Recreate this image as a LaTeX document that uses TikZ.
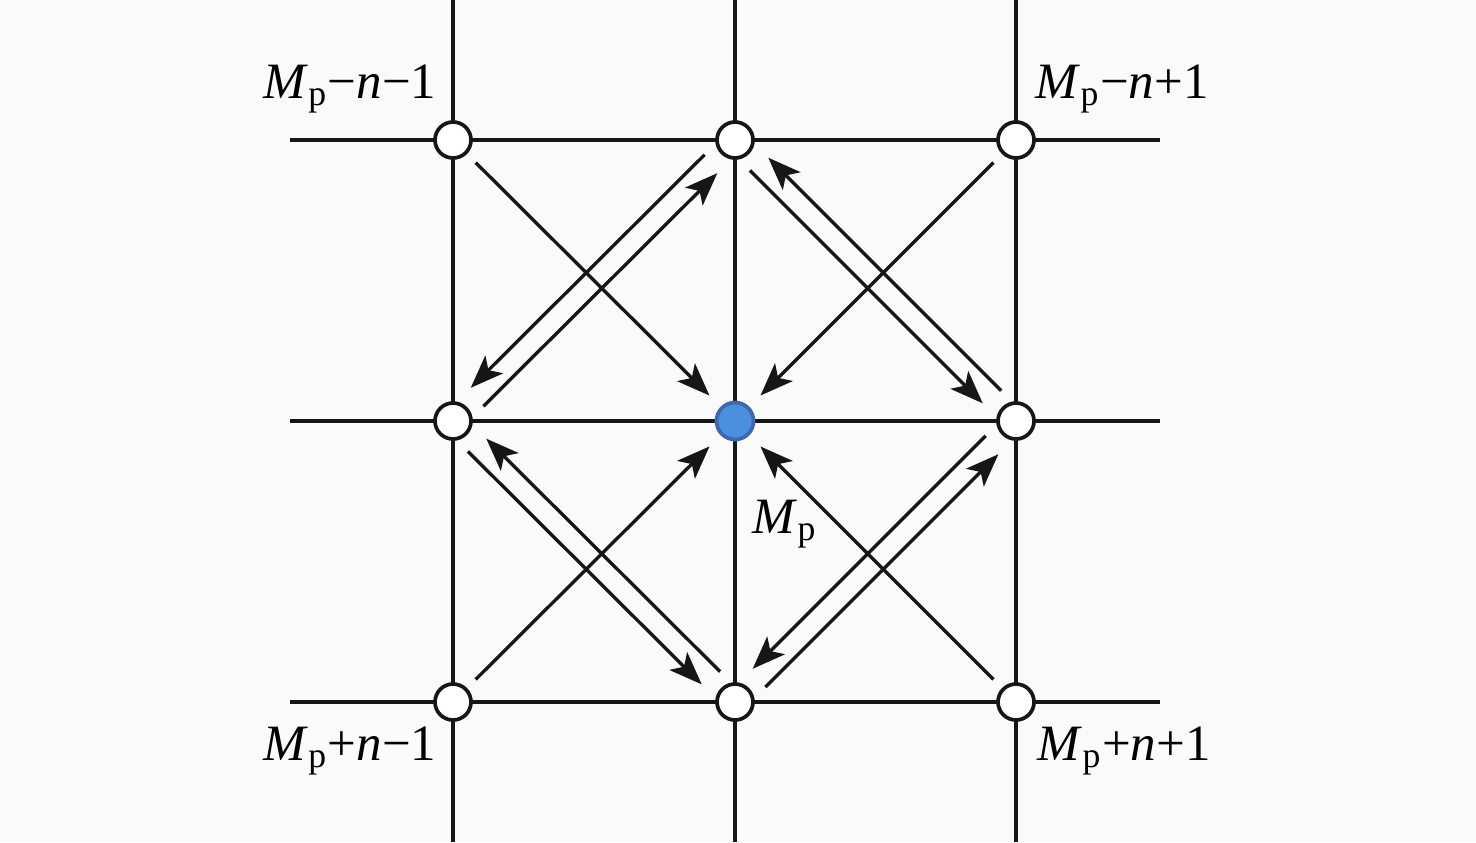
\documentclass[tikz,border=0pt]{standalone}
\usepackage{fontspec}
\setmainfont{Liberation Serif}
\usetikzlibrary{arrows.meta,calc}
\definecolor{bgcol}{RGB}{250,250,250}
\definecolor{ptblue}{RGB}{74,144,220}
\definecolor{ptedge}{RGB}{62,102,178}
\definecolor{inkcol}{RGB}{22,22,22}
\newcommand{\Mp}{\textit{M}\textsubscript{p}}

\begin{document}
\begin{tikzpicture}[
    gridline/.style={inkcol, line width=1.1pt},
    site/.style={circle, draw=inkcol, fill=white, line width=1.05pt, minimum size=0.36cm, inner sep=0pt},
    centresite/.style={site, draw=ptedge, fill=ptblue, minimum size=0.37cm},
    flow/.style={inkcol, line width=0.95pt, -{Stealth[length=0.33cm, width=0.25cm, inset=0.08cm]}},
    lbl/.style={font=\fontsize{14.5}{17}\selectfont, inner sep=0pt}
]
    % Canvas
    \useasboundingbox (0,0) rectangle (14.76,8.42);
    \fill[bgcol] (0,0) rectangle (14.76,8.42);

    % Grid lines
    \foreach \x in {4.53,7.35,10.16}
        \draw[gridline] (\x,0) -- (\x,8.42);
    \foreach \y in {1.40,4.21,7.02}
        \draw[gridline] (2.90,\y) -- (11.60,\y);

    % Grid points
    \foreach \name/\x/\y in {tl/4.53/7.02, tc/7.35/7.02, tr/10.16/7.02,
                             ml/4.53/4.21, mr/10.16/4.21,
                             bl/4.53/1.40, bc/7.35/1.40, br/10.16/1.40}
        \node[site] (\name) at (\x,\y) {};
    \node[centresite] (c) at (7.35,4.21) {};

    % Diagonal flows (offset to the right of their direction)
    \foreach \a/\b/\o in {tl/c/0, tr/c/0, bl/c/0, br/c/0,
                          tc/ml/0.11, ml/tc/0.11, mr/tc/0.11, tc/mr/0.11,
                          ml/bc/0.11, bc/ml/0.11, bc/mr/0.11, mr/bc/0.11}
        \draw[flow] ($(\a)!0.32cm!(\b)!\o cm!-90:(\b)$) -- ($(\b)!0.36cm!(\a)!\o cm!90:(\a)$);

    % Labels
    \node[lbl, anchor=base east] (lab-tl) at (4.37,7.44) {\Mp−\textit{n}−1};
    \node[lbl, anchor=base west] (lab-tr) at (10.35,7.44) {\Mp−\textit{n}+1};
    \node[lbl, anchor=base east] (lab-bl) at (4.37,0.82) {\Mp+\textit{n}−1};
    \node[lbl, anchor=base west] (lab-br) at (10.37,0.82) {\Mp+\textit{n}+1};
    \node[lbl, anchor=base west] (lab-c) at (7.52,3.09) {\Mp};
\end{tikzpicture}
\end{document}
